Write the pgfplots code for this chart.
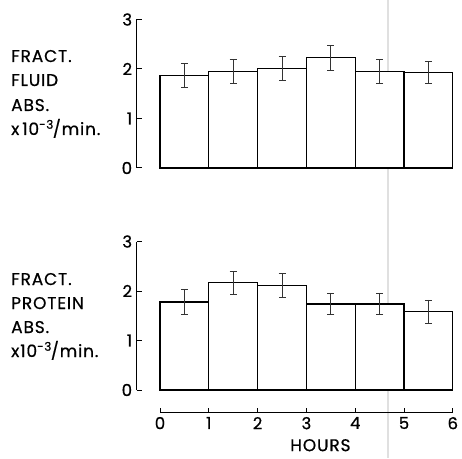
\documentclass[border=0pt]{standalone}
\usepackage{pgfplots}
\pgfplotsset{compat=1.18}
\usepackage{fontspec}
\setmainfont{Poppins}[FakeBold=0.6]
\newfontfamily\lbl{Poppins}[FakeBold=0.6, LetterSpace=5]

% fractional absorption rates, x10^-3/min, hourly periods
\pgfplotstableread{
x    y     err
0.5  1.87  0.25
1.5  1.95  0.24
2.5  2.01  0.24
3.5  2.23  0.25
4.5  1.95  0.24
5.5  1.93  0.23
}\fluid
\pgfplotstableread{
x    y     err
0.5  1.78  0.25
1.5  2.17  0.23
2.5  2.11  0.24
3.5  1.74  0.22
4.5  1.74  0.22
5.5  1.58  0.24
}\protein

\pgfplotsset{
  panel/.style={
    x=48.8pt, y=49.5pt,
    xmin=-0.48, xmax=6, ymin=0, ymax=3,
    anchor=south west,
    axis x line=none,
    axis y line*=left,
    ytick={0,1,2,3},
    tick align=inside,
    major tick length=5pt,
    every tick/.style={black, line width=1pt},
    y axis line style={line width=1.3pt},
    yticklabel style={font=\fontsize{16.5}{16}\selectfont, xshift=-1pt},
    /pgf/number format/assume math mode=true,
    clip=false,
  },
  bars/.style={
    ybar, bar width=48.8pt, bar shift=0pt,
    draw=black, fill=white, line width=1.3pt,
    error bars/.cd, y dir=both, y explicit,
    error bar style={line width=0.8pt, black!80},
    error mark options={rotate=90, mark size=3.5pt, line width=0.8pt, black!80},
  },
}

\begin{document}
\begin{tikzpicture}
\useasboundingbox (0,0) rectangle (462pt,458pt);

% faint scan line
\draw[black!12, line width=1.2pt] (388pt,0) -- (388pt,458pt);

\begin{axis}[panel, at={(136.6pt,290pt)}]
  \addplot[bars] table[x=x, y=y, y error=err] {\fluid};
\end{axis}

\begin{axis}[panel, at={(136.6pt,68pt)}]
  \addplot[bars] table[x=x, y=y, y error=err] {\protein};
\end{axis}

\begin{axis}[
  at={(160pt,45.5pt)}, anchor=south west,
  x=48.8pt, y=10pt,
  xmin=0, xmax=6, ymin=0, ymax=1,
  axis x line*=bottom, axis y line=none,
  xtick={0,...,6},
  tick align=inside,
  major tick length=5pt,
  every tick/.style={black, line width=1pt},
  x axis line style={line width=1.3pt},
  xticklabel style={font=\fontsize{16.5}{16}\selectfont, yshift=-1pt},
  /pgf/number format/assume math mode=true,
  xlabel={\lbl HOURS},
  xlabel style={font=\fontsize{17}{16}\selectfont, yshift=-3pt, xshift=14pt},
]
  \addplot[draw=none] coordinates {(0,0)};
\end{axis}

\begin{scope}[every node/.style={anchor=base west, inner sep=0pt, font=\lbl\fontsize{17}{16}\selectfont}]
  \node at (11pt,396pt) {FRACT.};
  \node at (11pt,372pt) {FLUID};
  \node at (11pt,347pt) {ABS.};
  \node at (11pt,323pt) {x\,10\textsuperscript{-3}\kern-1pt/min.};
  \node at (11pt,173pt) {FRACT.};
  \node at (11pt,149pt) {PROTEIN};
  \node at (11pt,125pt) {ABS.};
  \node at (11pt,101pt) {x10\textsuperscript{-3}\kern-1pt/min.};
\end{scope}
\end{tikzpicture}
\end{document}
